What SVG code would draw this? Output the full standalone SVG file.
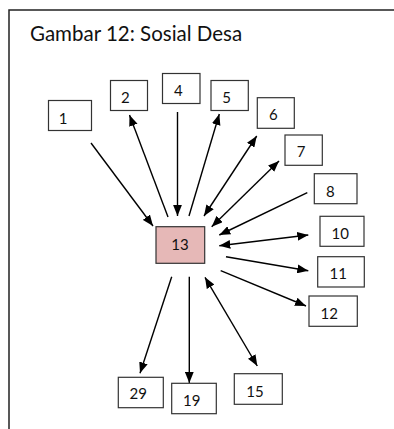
<svg xmlns="http://www.w3.org/2000/svg" width="394" height="429" viewBox="0 0 394 429">
<style>
.box{fill:#fff;stroke:#333;stroke-width:1.2}
.hub{fill:#e6b8b7;stroke:#333;stroke-width:1.2}
.lbl{font-family:Lato,"Open Sans",sans-serif;font-size:15px;fill:#111;text-anchor:middle}
.title{font-family:Lato,"Open Sans",sans-serif;font-size:20.5px;fill:#111}
.c{stroke:#000;stroke-width:1.4;fill:none}
.one{marker-end:url(#ah)}
.two{marker-end:url(#ah);marker-start:url(#ah)}
</style>
<defs>
<marker id="ah" viewBox="0 0 10 8" refX="10" refY="4" markerWidth="11" markerHeight="9" markerUnits="userSpaceOnUse" orient="auto-start-reverse">
<path d="M0,0 L10,4 L0,8 z" fill="#000"/>
</marker>
</defs>
<rect width="394" height="429" fill="#fff"/>
<g id="frame">
<path d="M9,429 V10 H394" fill="none" stroke="#222" stroke-width="1.5"/>
<text class="title" x="30" y="41">Gambar 12: Sosial Desa</text>
</g>
<g id="connectors">
<line class="c one" x1="91" y1="143" x2="153" y2="226"/>
<line class="c one" x1="168" y1="217" x2="129.5" y2="115"/>
<line class="c one" x1="177.5" y1="112" x2="177.5" y2="216"/>
<line class="c one" x1="189" y1="216" x2="219.3" y2="114"/>
<line class="c two" x1="204" y1="216" x2="256.7" y2="136"/>
<line class="c two" x1="211.7" y1="226.7" x2="279" y2="161"/>
<line class="c one" x1="307.3" y1="192.7" x2="219.3" y2="235"/>
<line class="c two" x1="219.3" y1="245.7" x2="308.3" y2="235"/>
<line class="c one" x1="226" y1="256.7" x2="308.3" y2="270.7"/>
<line class="c one" x1="220.7" y1="270.7" x2="306" y2="306"/>
<line class="c two" x1="205" y1="277.3" x2="257.3" y2="366"/>
<line class="c one" x1="189.3" y1="276.7" x2="189.3" y2="383"/>
<line class="c one" x1="171.7" y1="276.7" x2="140" y2="373.3"/>
</g>
<g id="n1"><rect class="box" x="48.5" y="100.5" width="43" height="30"/><text class="lbl" x="63" y="123.5">1</text></g>
<g id="n2"><rect class="box" x="110.5" y="80.5" width="37" height="30"/><text class="lbl" x="125.3" y="102.5">2</text></g>
<g id="n4"><rect class="box" x="162.5" y="73.5" width="37.5" height="30"/><text class="lbl" x="178.3" y="95.5">4</text></g>
<g id="n5"><rect class="box" x="211" y="80.5" width="37.3" height="30"/><text class="lbl" x="226.7" y="102.5">5</text></g>
<g id="n6"><rect class="box" x="257.3" y="97.7" width="37" height="30.6"/><text class="lbl" x="273.3" y="120">6</text></g>
<g id="n7"><rect class="box" x="285" y="135" width="37.3" height="30.3"/><text class="lbl" x="301" y="156.5">7</text></g>
<g id="n8"><rect class="box" x="314.3" y="173.7" width="42.7" height="30"/><text class="lbl" x="330.3" y="196.5">8</text></g>
<g id="n10"><rect class="box" x="320" y="216.3" width="44" height="30"/><text class="lbl" x="340.3" y="238.5">10</text></g>
<g id="n11"><rect class="box" x="317.7" y="256.7" width="46.6" height="30.3"/><text class="lbl" x="338.3" y="279">11</text></g>
<g id="n12"><rect class="box" x="309" y="296" width="48.3" height="30.3"/><text class="lbl" x="329.3" y="318.5">12</text></g>
<g id="n13"><rect class="hub" x="156" y="226.7" width="48.7" height="36.6"/><text class="lbl" x="180" y="249.5">13</text></g>
<g id="n15"><rect class="box" x="234.3" y="373.7" width="48" height="30.6"/><text class="lbl" x="255" y="396.5">15</text></g>
<g id="n19"><rect class="box" x="171.7" y="383.3" width="44.6" height="30.4"/><text class="lbl" x="191.7" y="405.5">19</text></g>
<g id="n29"><rect class="box" x="118.3" y="377.3" width="45" height="30.4"/><text class="lbl" x="138.3" y="399">29</text></g>
</svg>
